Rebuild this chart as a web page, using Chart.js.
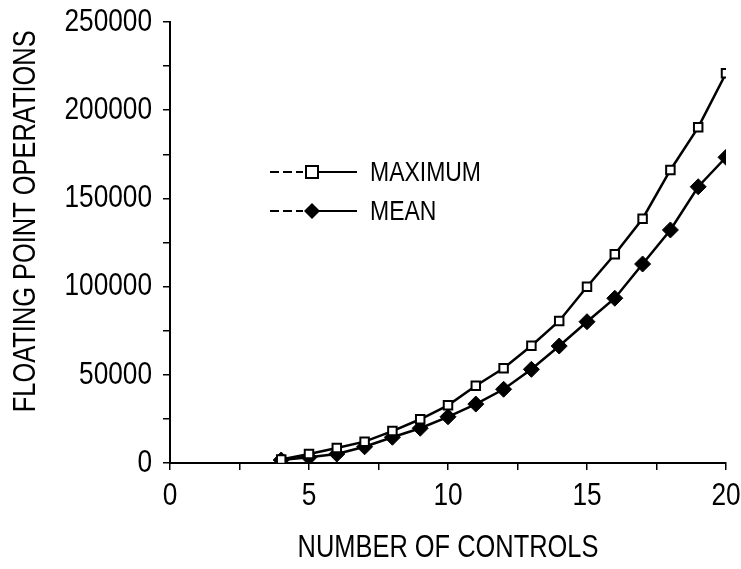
<!DOCTYPE html>
<html>
<head>
<meta charset="utf-8">
<title>Floating point operations</title>
<script src="https://cdn.jsdelivr.net/npm/chart.js@4.4.1/dist/chart.umd.min.js"></script>
<style>
  body { margin: 0; background: #fff; }
  canvas { display: block; }
</style>
</head>
<body>
<canvas id="opsChart" width="741" height="569"></canvas>
<script>
// data
const controls = [4, 5, 6, 7, 8, 9, 10, 11, 12, 13, 14, 15, 16, 17, 18, 19, 20];
const maximumOps = [2000, 5100, 8500, 12100, 18100, 24800, 32700, 43800, 53700, 66500, 80500, 99900, 118300, 138500, 166100, 190300, 220900];
const meanOps = [1700, 3200, 5100, 9200, 14600, 19700, 26200, 33400, 41800, 53100, 66300, 80100, 93400, 112800, 132100, 156600, 173300];
const seriesNames = ['MAXIMUM', 'MEAN'];

// no narrow face installed, so Liberation Sans is squeezed to narrow width
const fontFamily = "'Liberation Sans', Arial, sans-serif";
const squeeze = 0.82;
const ink = '#000';

function toPoints(xs, ys) {
  return xs.map((x, i) => ({ x: x, y: ys[i] }));
}

const narrowText = {
  id: 'narrowText',
  beforeInit(chart) {
    const ctx = chart.ctx;
    const fill = ctx.fillText.bind(ctx);
    ctx.fillText = function (text, x, y, maxWidth) {
      ctx.save();
      ctx.translate(x, y);
      ctx.scale(squeeze, 1);
      if (maxWidth === undefined) {
        fill(text, 0, 0);
      } else {
        fill(text, 0, 0, maxWidth / squeeze);
      }
      ctx.restore();
    };
  }
};

// legend drawn inside the plot, like the original figure
const insideLegend = {
  id: 'insideLegend',
  afterDraw(chart) {
    const ctx = chart.ctx;
    const area = chart.chartArea;
    const x0 = area.left + 100;
    const x1 = area.left + 187;
    const mid = area.left + 142;
    const rows = [area.top + 150, area.top + 189];

    ctx.save();
    chart.data.datasets.forEach((ds, i) => {
      const y = rows[i];
      ctx.strokeStyle = ink;
      ctx.lineWidth = 2;
      // left part of the sample line is broken
      ctx.setLineDash([9, 4]);
      ctx.beginPath();
      ctx.moveTo(x0, y);
      ctx.lineTo(mid - 9, y);
      ctx.stroke();
      ctx.setLineDash([]);
      ctx.beginPath();
      ctx.moveTo(mid - 4, y);
      ctx.lineTo(x1, y);
      ctx.stroke();

      const r = ds.pointRadius;
      ctx.beginPath();
      if (ds.pointStyle === 'rect') {
        ctx.fillStyle = '#fff';
        ctx.rect(mid - r, y - r, r * 2, r * 2);
        ctx.fill();
        ctx.stroke();
      } else {
        ctx.fillStyle = ink;
        ctx.moveTo(mid, y - r);
        ctx.lineTo(mid + r, y);
        ctx.lineTo(mid, y + r);
        ctx.lineTo(mid - r, y);
        ctx.closePath();
        ctx.fill();
      }

      ctx.fillStyle = ink;
      ctx.font = '28px ' + fontFamily;
      ctx.textBaseline = 'middle';
      ctx.textAlign = 'left';
      ctx.fillText(ds.label, x1 + 13, y + 1);
    });
    ctx.restore();
  }
};

new Chart(document.getElementById('opsChart'), {
  type: 'line',
  data: {
    datasets: [{
      label: seriesNames[0],
      data: toPoints(controls, maximumOps),
      borderColor: ink,
      borderWidth: 2.5,
      pointStyle: 'rect',
      pointRadius: 6,
      pointBackgroundColor: '#fff',
      pointBorderColor: ink,
      pointBorderWidth: 2,
      tension: 0
    }, {
      label: seriesNames[1],
      data: toPoints(controls, meanOps),
      borderColor: ink,
      borderWidth: 2.5,
      pointStyle: 'rectRot',
      pointRadius: 8,
      pointBackgroundColor: ink,
      pointBorderColor: ink,
      pointBorderWidth: 1,
      tension: 0
    }]
  },
  options: {
    responsive: false,
    animation: false,
    devicePixelRatio: 1,
    layout: { padding: { top: 22, right: 15, left: 0, bottom: 0 } },
    plugins: {
      legend: { display: false },
      tooltip: { enabled: false }
    },
    scales: {
      x: {
        type: 'linear',
        min: 0,
        max: 20,
        afterFit: (scale) => {
          scale.height = 106;
          scale.paddingLeft = 0;
          scale.paddingRight = 0;
        },
        border: { color: ink, width: 2 },
        grid: { drawOnChartArea: false, tickLength: 7, tickColor: ink, lineWidth: 1.5 },
        ticks: {
          stepSize: 2.5,
          autoSkip: false,
          maxRotation: 0,
          padding: 7,
          color: ink,
          font: { family: fontFamily, size: 32 },
          callback: (v) => (v % 5 === 0 ? v : '')
        },
        title: {
          display: true,
          text: 'NUMBER OF CONTROLS',
          color: ink,
          font: { family: fontFamily, size: 31 },
          padding: { top: 0, bottom: 2 }
        }
      },
      y: {
        min: 0,
        max: 250000,
        afterFit: (scale) => {
          scale.width = 170;
          scale.paddingTop = 0;
          scale.paddingBottom = 0;
        },
        border: { color: ink, width: 2 },
        grid: { drawOnChartArea: false, tickLength: 7, tickColor: ink, lineWidth: 1.5 },
        ticks: {
          stepSize: 25000,
          autoSkip: false,
          padding: 11,
          color: ink,
          font: { family: fontFamily, size: 32 },
          callback: (v) => (v % 50000 === 0 ? v : '')
        },
        title: {
          display: true,
          text: '      FLOATING POINT OPERATIONS',
          color: ink,
          font: { family: fontFamily, size: 31 },
          padding: { top: 8, bottom: 0 }
        }
      }
    }
  },
  plugins: [narrowText, insideLegend]
});
</script>
</body>
</html>
